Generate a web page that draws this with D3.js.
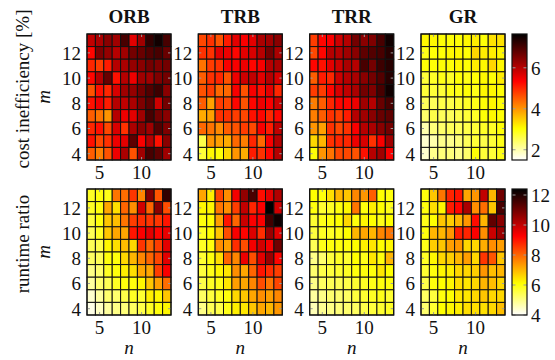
<!DOCTYPE html>
<html>
<head>
<meta charset="utf-8">
<script src="https://cdn.jsdelivr.net/npm/d3@7/dist/d3.min.js"></script>
<style>
  html, body { margin: 0; padding: 0; background: #fff; }
  svg { display: block; }
  text { font-family: "Liberation Serif", "DejaVu Serif", serif; fill: #111; }
</style>
</head>
<body>
<svg id="chart" width="555" height="360"></svg>
<script>
// ---------------- data ----------------
const nValues = [4, 5, 6, 7, 8, 9, 10, 11, 12, 13];
const mValues = [4, 5, 6, 7, 8, 9, 10, 11, 12, 13];
const xTickValues = [5, 10];
const yTickValues = [4, 6, 8, 10, 12];
const methods = ["ORB", "TRB", "TRR", "GR"];
const rowLabels = ["cost inefficiency [%]", "runtime ratio"];
const costDomain = [1.5, 7.65];
const costTicks = [2, 4, 6];
const runtimeDomain = [4, 12.4];
const runtimeTicks = [4, 6, 8, 10, 12];

// rows listed from m = 13 (top) down to m = 4; columns n = 4..13
const orbCost = [
  [5.9, 6.1, 6.4, 6.2, 7.0, 5.6, 6.2, 7.2, 7.5, 7.0],
  [5.3, 6.5, 6.3, 6.0, 6.2, 6.6, 6.7, 6.9, 7.0, 6.7],
  [5.0, 4.8, 5.1, 6.0, 6.1, 6.3, 6.4, 6.6, 6.5, 6.6],
  [5.3, 6.0, 6.7, 5.2, 6.0, 5.5, 6.2, 6.2, 6.5, 6.6],
  [4.6, 5.2, 5.0, 5.7, 6.2, 6.3, 6.6, 6.9, 7.1, 6.4],
  [5.2, 5.5, 5.1, 6.0, 5.9, 6.1, 6.5, 6.8, 5.8, 6.6],
  [4.5, 4.3, 4.0, 6.0, 5.5, 5.6, 6.2, 7.0, 6.6, 6.4],
  [5.0, 5.2, 4.7, 5.7, 4.9, 6.1, 6.4, 6.2, 6.9, 6.5],
  [5.2, 4.7, 4.9, 5.5, 5.6, 6.8, 5.4, 6.0, 5.2, 6.4],
  [4.5, 4.2, 4.6, 5.5, 6.1, 4.6, 6.2, 7.0, 6.8, 6.2]
];
const trbCost = [
  [4.7, 4.9, 4.6, 5.1, 5.6, 5.4, 5.6, 6.1, 6.2, 6.4],
  [4.9, 4.9, 5.6, 5.5, 5.3, 5.6, 5.7, 6.0, 6.6, 6.1],
  [4.3, 4.8, 4.9, 5.4, 5.4, 5.5, 5.3, 5.4, 6.0, 6.1],
  [4.5, 4.9, 5.0, 4.6, 5.5, 5.8, 5.9, 5.6, 6.0, 5.7],
  [4.6, 4.8, 4.4, 4.4, 5.4, 4.6, 5.4, 5.2, 5.6, 5.0],
  [4.5, 3.9, 4.8, 4.7, 5.3, 4.6, 5.3, 5.5, 5.4, 5.8],
  [3.8, 3.9, 4.9, 4.9, 4.8, 4.7, 5.2, 5.3, 5.0, 5.3],
  [4.4, 4.3, 4.1, 4.5, 4.6, 4.8, 4.7, 5.4, 5.1, 5.9],
  [2.6, 4.0, 3.9, 3.8, 4.4, 4.2, 5.0, 4.4, 5.4, 6.0],
  [2.7, 3.1, 3.0, 3.4, 4.0, 3.8, 5.1, 4.9, 5.3, 6.0]
];
const trrCost = [
  [4.8, 5.3, 5.4, 5.8, 6.0, 6.6, 6.4, 6.5, 7.0, 7.5],
  [4.7, 5.3, 6.0, 6.0, 6.2, 6.4, 6.8, 6.9, 7.0, 7.3],
  [5.3, 5.2, 5.6, 5.8, 6.1, 6.0, 7.0, 6.6, 7.1, 7.3],
  [4.5, 5.1, 5.0, 5.8, 6.0, 6.1, 6.4, 6.6, 6.9, 7.3],
  [4.8, 4.8, 5.3, 5.7, 5.9, 6.1, 6.6, 6.5, 7.0, 7.5],
  [4.2, 4.5, 5.0, 5.3, 5.3, 5.5, 6.2, 6.0, 6.7, 7.0],
  [4.2, 4.5, 4.9, 4.8, 5.1, 6.0, 6.2, 6.4, 6.7, 6.8],
  [4.0, 3.9, 4.9, 4.7, 4.9, 5.4, 6.0, 6.1, 6.4, 6.6],
  [3.4, 3.7, 4.9, 5.0, 5.0, 5.5, 5.7, 4.9, 5.4, 6.2],
  [3.0, 4.0, 4.3, 4.7, 4.7, 4.6, 5.2, 6.0, 6.2, 5.4]
];
const grCost = [
  [3.1, 3.1, 3.0, 3.0, 3.0, 3.1, 3.2, 3.0, 3.3, 3.3],
  [2.9, 3.0, 3.0, 3.1, 3.1, 3.0, 3.4, 3.2, 3.2, 3.1],
  [3.0, 3.0, 3.0, 3.0, 3.1, 3.0, 3.2, 3.1, 3.4, 3.1],
  [2.7, 2.8, 2.9, 2.8, 3.0, 2.9, 3.0, 3.1, 3.0, 3.2],
  [2.7, 2.7, 2.7, 2.9, 2.9, 3.0, 2.9, 3.1, 3.1, 3.0],
  [2.5, 2.5, 2.6, 2.6, 2.7, 2.8, 2.9, 3.0, 3.1, 3.0],
  [2.4, 2.6, 2.5, 2.5, 2.6, 2.7, 2.8, 3.0, 3.1, 3.0],
  [2.0, 2.3, 2.4, 2.5, 2.5, 2.6, 2.7, 2.8, 2.8, 3.0],
  [1.8, 2.0, 2.2, 2.2, 2.3, 2.5, 2.7, 2.6, 2.7, 2.9],
  [1.8, 2.2, 2.3, 2.3, 2.2, 2.4, 3.0, 2.7, 2.7, 2.9]
];
const orbRuntime = [
  [5.8, 6.0, 5.9, 7.8, 7.9, 8.6, 7.6, 10.8, 8.2, 11.8],
  [5.8, 6.0, 7.2, 6.5, 8.0, 7.5, 9.8, 8.0, 10.7, 8.3],
  [5.6, 6.0, 6.8, 6.9, 7.8, 8.5, 8.7, 8.6, 8.6, 9.0],
  [5.4, 5.8, 6.8, 7.2, 7.2, 9.0, 9.3, 9.6, 9.2, 9.5],
  [5.4, 5.5, 6.2, 6.5, 6.9, 6.6, 8.6, 8.0, 8.5, 9.6],
  [5.3, 5.4, 6.0, 6.0, 6.6, 7.0, 7.6, 8.0, 8.4, 9.6],
  [5.0, 5.2, 5.8, 6.0, 6.3, 6.5, 7.2, 7.2, 8.5, 9.3],
  [4.8, 5.2, 5.4, 5.8, 6.0, 6.0, 6.2, 6.8, 7.3, 7.9],
  [4.4, 4.8, 5.2, 5.2, 5.5, 5.8, 5.7, 6.3, 6.2, 6.8],
  [4.2, 4.5, 4.8, 5.0, 5.1, 5.3, 5.5, 5.8, 6.0, 6.2]
];
const trbRuntime = [
  [7.2, 6.3, 8.4, 7.5, 9.4, 10.6, 11.5, 9.1, 9.6, 10.2],
  [6.2, 6.2, 7.8, 7.5, 8.5, 10.0, 8.8, 9.3, 12.4, 9.8],
  [6.0, 6.1, 7.3, 9.0, 8.0, 9.9, 9.3, 9.3, 11.6, 12.2],
  [5.8, 6.1, 6.8, 8.3, 9.3, 9.2, 9.7, 8.7, 10.5, 9.6],
  [5.8, 6.0, 7.5, 7.3, 8.7, 8.3, 9.4, 9.8, 9.4, 11.0],
  [5.7, 6.0, 6.5, 8.0, 7.6, 9.5, 8.3, 9.6, 10.5, 9.2],
  [5.6, 5.9, 6.2, 6.4, 7.5, 7.2, 8.0, 9.0, 8.7, 8.5],
  [5.5, 5.8, 5.9, 6.4, 7.3, 7.2, 7.6, 8.3, 7.8, 8.4],
  [5.3, 5.6, 5.8, 6.0, 6.6, 6.8, 7.2, 7.5, 7.3, 7.6],
  [5.0, 5.4, 5.5, 5.9, 6.3, 6.4, 6.8, 7.2, 7.0, 7.4]
];
const trrRuntime = [
  [6.1, 6.0, 6.5, 7.0, 6.8, 7.6, 7.4, 8.1, 6.1, 6.0],
  [6.0, 5.7, 5.8, 6.0, 6.2, 7.8, 6.0, 6.3, 6.1, 5.9],
  [5.7, 5.9, 6.0, 6.1, 6.6, 6.0, 6.2, 6.1, 5.9, 6.1],
  [5.6, 5.8, 5.8, 5.9, 6.1, 7.0, 7.2, 7.0, 7.6, 7.8],
  [5.4, 5.9, 6.0, 6.0, 6.0, 6.1, 6.3, 6.4, 6.1, 6.2],
  [5.0, 5.2, 5.6, 5.8, 5.7, 6.1, 5.9, 6.4, 6.0, 7.0],
  [5.2, 5.5, 5.6, 5.7, 5.8, 6.0, 6.0, 6.0, 6.4, 6.1],
  [5.0, 5.3, 5.4, 5.4, 5.5, 5.7, 5.8, 5.9, 6.0, 6.0],
  [4.8, 5.0, 5.2, 5.2, 5.3, 5.6, 5.7, 5.8, 5.9, 5.7],
  [4.6, 4.9, 5.0, 5.1, 5.2, 5.3, 5.5, 5.6, 5.7, 5.8]
];
const grRuntime = [
  [6.0, 6.8, 7.8, 8.8, 9.0, 7.2, 7.4, 10.0, 7.0, 11.0],
  [6.0, 6.5, 6.2, 8.9, 9.2, 10.3, 7.5, 7.9, 6.8, 11.5],
  [5.9, 6.1, 6.8, 6.7, 7.0, 7.4, 9.1, 7.0, 11.2, 10.7],
  [6.0, 7.0, 7.0, 7.4, 8.9, 8.8, 9.3, 7.5, 9.9, 10.5],
  [5.9, 6.7, 6.8, 7.3, 7.4, 6.6, 6.6, 7.1, 7.5, 7.3],
  [5.8, 6.2, 6.6, 6.7, 7.0, 7.3, 6.6, 8.6, 8.2, 6.8],
  [5.7, 6.0, 6.2, 6.3, 6.6, 6.6, 6.7, 7.4, 6.9, 7.0],
  [5.5, 6.0, 6.1, 6.2, 6.5, 6.4, 6.6, 7.0, 6.9, 6.6],
  [5.3, 5.6, 6.0, 6.1, 6.4, 6.4, 6.6, 6.8, 6.6, 6.6],
  [5.2, 5.7, 6.1, 6.2, 6.3, 6.5, 6.5, 6.5, 6.6, 6.9]
];

const costData = [orbCost, trbCost, trrCost, grCost];
const runtimeData = [orbRuntime, trbRuntime, trrRuntime, grRuntime];

// ---------------- layout ----------------
const svg = d3.select("#chart");
const panelW = 84, panelH = 126;
const panelLefts = [87, 198.3, 309.7, 421];
const rowTops = [34, 189];
const cbX = 512, cbW = 15;

// flipped MATLAB "hot" colormap: low -> white, high -> black
const hotStops = [
  { t: 0, c: "#000000" },
  { t: 0.375, c: "#ff0000" },
  { t: 0.75, c: "#ffff00" },
  { t: 1, c: "#ffffff" }
];
const hotScale = d3.scaleLinear()
  .domain(hotStops.map(d => d.t))
  .range(hotStops.map(d => d.c))
  .interpolate(d3.interpolateRgb)
  .clamp(true);
function makeColor(domain) {
  const toT = d3.scaleLinear().domain([domain[1], domain[0]]).range([0, 1]).clamp(true);
  return v => hotScale(toT(v));
}

const rows = [
  { data: costData, domain: costDomain, ticks: costTicks, label: rowLabels[0] },
  { data: runtimeData, domain: runtimeDomain, ticks: runtimeTicks, label: rowLabels[1] }
];

const defs = svg.append("defs");
const grad = defs.append("linearGradient").attr("id", "hotgrad")
  .attr("x1", 0).attr("y1", 0).attr("x2", 0).attr("y2", 1);
hotStops.forEach(s => grad.append("stop").attr("offset", s.t).attr("stop-color", s.c));

const tickGray = "#9a9a9a";

rows.forEach((row, ri) => {
  const top = rowTops[ri];
  const color = makeColor(row.domain);
  row.data.forEach((matrix, pi) => {
    const left = panelLefts[pi];
    const x = d3.scaleBand().domain(nValues).range([left, left + panelW]);
    const y = d3.scaleBand().domain(mValues).range([top + panelH, top]);
    const g = svg.append("g");
    const cells = [];
    matrix.forEach((r, i) => {
      const m = mValues[mValues.length - 1 - i];
      r.forEach((v, j) => cells.push({ n: nValues[j], m: m, v: v }));
    });
    g.selectAll("rect.cell").data(cells).join("rect")
      .attr("class", "cell")
      .attr("x", d => x(d.n)).attr("y", d => y(d.m))
      .attr("width", x.bandwidth()).attr("height", y.bandwidth())
      .attr("fill", d => color(d.v))
      .attr("stroke", "#111").attr("stroke-width", 1);
    // inner tick marks
    yTickValues.forEach(t => {
      const yy = y(t) + y.bandwidth() / 2;
      g.append("line").attr("x1", left).attr("x2", left + 3).attr("y1", yy).attr("y2", yy)
        .attr("stroke", tickGray).attr("stroke-width", 1);
      g.append("line").attr("x1", left + panelW - 3).attr("x2", left + panelW).attr("y1", yy).attr("y2", yy)
        .attr("stroke", tickGray).attr("stroke-width", 1);
    });
    xTickValues.forEach(t => {
      const xx = x(t) + x.bandwidth() / 2;
      g.append("line").attr("x1", xx).attr("x2", xx).attr("y1", top).attr("y2", top + 3)
        .attr("stroke", tickGray).attr("stroke-width", 1);
      g.append("line").attr("x1", xx).attr("x2", xx).attr("y1", top + panelH - 3).attr("y2", top + panelH)
        .attr("stroke", tickGray).attr("stroke-width", 1);
    });
    g.append("rect").attr("x", left).attr("y", top).attr("width", panelW).attr("height", panelH)
      .attr("fill", "none").attr("stroke", "#111").attr("stroke-width", 1.2);

    // y axis labels
    const ya = svg.append("g").attr("transform", `translate(${left - 6},0)`)
      .call(d3.axisLeft(y).tickValues(yTickValues).tickSize(0).tickPadding(0));
    ya.select(".domain").remove();
    ya.selectAll("text").attr("font-size", 19).attr("font-family", "Liberation Serif")
      .attr("fill", "#111").attr("dy", "0.36em");
    // x axis labels
    const xa = svg.append("g").attr("transform", `translate(0,${top + panelH + 4})`)
      .call(d3.axisBottom(x).tickValues(xTickValues).tickSize(0).tickPadding(0));
    xa.select(".domain").remove();
    xa.selectAll("text").attr("font-size", 19).attr("font-family", "Liberation Serif")
      .attr("fill", "#111").attr("dy", "0.78em");

    if (ri === 0) {
      svg.append("text").attr("x", left + panelW / 2).attr("y", 23)
        .attr("text-anchor", "middle").attr("font-weight", "bold").attr("font-size", 19)
        .text(methods[pi]);
    } else {
      svg.append("text").attr("x", left + panelW / 2).attr("y", 354)
        .attr("text-anchor", "middle").attr("font-style", "italic").attr("font-size", 19)
        .text("n");
    }
  });

  // colorbar
  const cy = d3.scaleLinear().domain(row.domain).range([top + panelH, top]);
  const cb = svg.append("g");
  cb.append("rect").attr("x", cbX).attr("y", top).attr("width", cbW).attr("height", panelH)
    .attr("fill", "url(#hotgrad)");
  row.ticks.forEach(t => {
    const yy = cy(t);
    cb.append("line").attr("x1", cbX).attr("x2", cbX + 3.5).attr("y1", yy).attr("y2", yy)
      .attr("stroke", tickGray).attr("stroke-width", 1);
    cb.append("line").attr("x1", cbX + cbW - 3.5).attr("x2", cbX + cbW).attr("y1", yy).attr("y2", yy)
      .attr("stroke", tickGray).attr("stroke-width", 1);
  });
  cb.append("rect").attr("x", cbX).attr("y", top).attr("width", cbW).attr("height", panelH)
    .attr("fill", "none").attr("stroke", "#111").attr("stroke-width", 1.2);
  const ca = svg.append("g").attr("transform", `translate(${cbX + cbW + 4},0)`)
    .call(d3.axisRight(cy).tickValues(row.ticks).tickSize(0).tickPadding(0).tickFormat(d3.format("d")));
  ca.select(".domain").remove();
  ca.selectAll("text").attr("font-size", 19).attr("font-family", "Liberation Serif")
    .attr("fill", "#111").attr("dy", "0.36em");

  // row labels
  const midY = top + panelH / 2;
  svg.append("text").attr("transform", `translate(29,${midY - 8}) rotate(-90)`)
    .attr("text-anchor", "middle").attr("font-size", 19).text(row.label);
  svg.append("text").attr("transform", `translate(50,${midY}) rotate(-90)`)
    .attr("text-anchor", "middle").attr("font-style", "italic").attr("font-size", 19).text("m");
});
</script>
</body>
</html>
